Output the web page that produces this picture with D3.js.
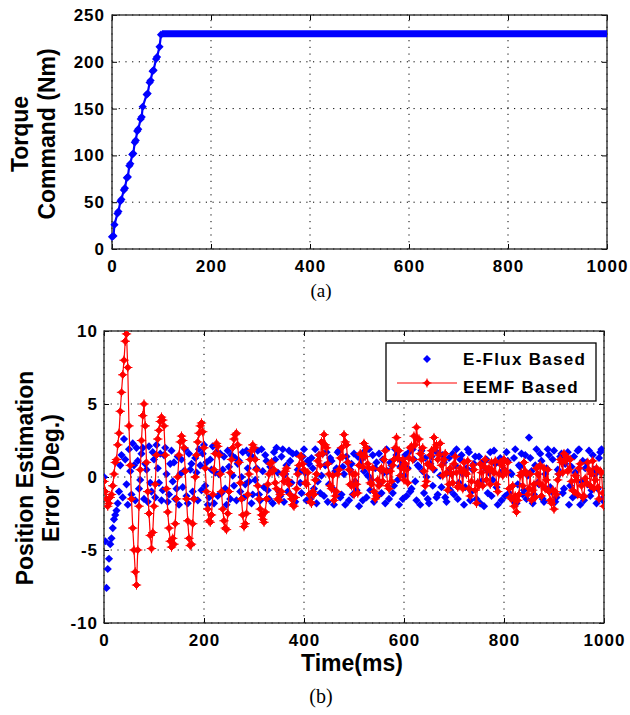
<!DOCTYPE html>
<html>
<head>
<meta charset="utf-8">
<script src="https://cdn.jsdelivr.net/npm/d3@7"></script>
<style>
  body { margin: 0; background: #fff; }
  svg { font-family: "Liberation Sans", Arial, sans-serif; }
</style>
</head>
<body>
<div id="chart"></div>
<script>
// (a) torque command, ramp samples then saturation
const torqueTime  = [0, 3, 5, 11, 13, 17, 19, 24, 26, 30, 32, 35, 37, 41, 43, 46, 48, 51, 53, 58, 60, 62, 70, 72, 76, 78, 82, 84, 89, 91, 96, 99];
const torqueValue = [13, 14, 26, 38, 40, 51, 53, 63, 65, 76, 77, 89, 91, 101, 102, 114, 116, 126, 128, 139, 141, 152, 165, 166, 178, 180, 190, 191, 203, 205, 216, 229];
const torqueHoldTime  = [101, 1000];
const torqueHoldValue = [230, 230];

// (b) position estimation error
// *Main arrays: samples at 0, 5, 10 ... 1000 ms; *Mid arrays: 2.5, 7.5 ... 997.5 ms
const SAMPLE_MS = 5;
const eFluxMain = [
  0.0, -7.6, -5.6, -4.2, -2.9, -2.3, -1.0, 1.5, 2.6, -0.5, 1.9, -1.2, 0.8, 2.0, -0.8, 1.6, -1.5, 0.5, 2.1, -1.0,
  1.2, 2.2, -0.4, -1.6, 1.5, 0.2, -1.2, 1.8, 1.0, -0.8, -1.9, 1.2, 0.4, -1.3, 1.6, 0.9, -1.5, 0.3, 1.9, -0.9,
  2.2, 1.0, -1.4, 0.5, -1.8, 1.7, 0.2, -1.1, 1.4, -1.9, 0.7, 1.5, -0.6, -1.6, 1.1, 0.0, -1.4, 1.8, -0.3, -1.8,
  1.3, 0.6, -1.2, 1.9, -0.7, 1.1, -1.5, 0.4, 1.7, 2.0, -1.0, 1.4, -1.7, 0.8, 1.8, -0.4, -1.4, 1.6, 0.3, -1.1,
  1.9, -1.6, 0.9, 1.3, -0.8, -1.8, 1.5, 0.1, -1.3, 1.7, -0.5, 1.1, -1.9, 0.6, 1.8, -1.2, 0.2, 1.4, -1.6, 0.9,
  1.6, -0.9, -2.0, 1.2, 0.4, -1.4, 1.9, -0.2, -1.7, 1.0, 1.6, -1.1, 0.3, 1.9, -1.5, 0.8, -0.6, 1.5, -1.9, 1.1,
  0.1, -1.3, 1.7, -0.8, 1.2, -1.6, 0.7, 1.8, -1.1, 0.0, -1.8, 1.4, 0.5, -1.4, 1.6, -0.7, 1.0, -1.7, 1.3, 0.2,
  -1.2, 1.9, -0.4, 1.5, -1.9, 0.6, 1.7, -1.0, 0.9, -1.5, 1.4, -0.3, -2.0, 1.2, 0.3, -1.3, 1.8, -0.7, 1.0, -1.6,
  0.5, 1.7, -1.1, 0.2, 1.3, -1.8, 0.8, 1.6, -0.9, -1.5, 2.7, 0.4, -1.2, 1.9, -0.5, 1.1, -1.7, 0.6, 1.5, -1.0,
  1.8, -1.4, 0.2, 1.6, -0.8, 1.2, -1.9, 0.7, 1.4, -1.2, 1.9, -0.3, -1.6, 1.0, 1.8, -0.9, 0.5, -1.8, 1.3, 1.9,
  -1.4
];
const eFluxMid = [
  -4.4, -6.3, -4.6, -3.5, -2.6, -1.8, 0.8, -1.4, 1.2, -1.9, 0.4, 2.3, -1.6, 1.1, -0.2, 2.0, 0.9, -1.7, -0.4, 1.7,
  -1.4, 0.6, 1.6, -0.9, 2.0, -1.7, 0.9, -0.3, -1.5, 1.4, 0.2, -0.7, 1.9, -1.8, 0.5, -1.0, 1.3, -1.6, 0.8, 1.6,
  -0.6, -1.9, 1.2, 2.1, 0.3, -1.3, 1.6, 0.5, -0.8, 1.8, -1.5, 0.1, 1.3, 0.9, -1.0, 1.7, -0.5, 0.6, 1.5, -1.2,
  -0.2, 1.8, -1.6, 0.4, 1.5, -0.9, 0.7, -1.8, 1.2, 0.3, -1.3, 1.9, 0.2, -1.0, 1.1, 1.6, -1.7, 0.5, -0.4, 1.4,
  0.3, 1.1, -1.5, 0.6, 1.9, -0.3, -1.1, 1.6, 0.8, -1.7, 1.3, -0.8, 0.4, 1.7, -1.4, 0.7, -1.9, 1.0, 0.5, -1.2,
  -0.3, 1.4, 0.8, -1.6, 1.8, 0.1, -0.9, 1.5, 0.6, -1.3, -0.4, 1.2, -1.8, 0.4, 1.0, -1.1, 1.9, -0.2, 0.7, -1.5,
  1.5, 0.6, -1.0, 1.9, -0.3, 0.8, -1.9, 0.4, 1.3, -1.5, 0.9, -0.6, 1.8, -1.2, 0.1, 1.5, -1.4, 0.3, -0.9, 1.6,
  0.8, -1.5, 1.2, 0.2, -0.7, 1.9, -1.6, 0.5, 1.4, -0.4, -1.8, 1.0, 0.6, -1.1, 1.7, -0.2, 0.9, -1.9, 1.3, 0.4,
  -1.3, 1.1, 0.3, -1.6, 1.9, -0.5, 0.7, -1.2, 1.5, 0.1, 1.3, -1.8, 0.8, -0.4, 1.6, -1.5, 0.2, 1.9, -0.7, 1.2,
  -1.7, 0.5, 1.4, -1.1, 0.9, 1.7, -0.6, -1.4, 0.3, 1.8, -1.9, 1.1, 0.6, -0.5, -1.3, 1.5, 0.2, -0.8, 1.7, -1.6
];
const eemfMain = [
  -0.3, -1.5, -1.8, -1.2, 0.2, 1.2, 3.0, 5.8, 8.0, 9.8, 3.5, -1.5, -5.0, -7.4, -2.0, 2.5, 5.0, 1.0, -2.5, -4.9,
  -2.0, 1.5, 3.2, 4.1, 3.5, -0.8, -3.5, -4.8, -4.6, -1.5, 1.5, 2.8, 2.0, -1.5, -4.2, -4.6, -1.5, 1.5, 3.0, 3.7,
  2.0, -1.0, -3.0, -2.6, 0.5, 2.3, 1.5, -1.0, -3.0, -3.6, -1.0, 1.2, 2.6, 3.0, 1.0, -1.5, -3.4, -2.5, 0.2, 1.8,
  2.0, 0.5, -1.5, -2.6, -3.1, -1.5, 0.2, 1.0, 0.5, -0.8, -1.6, -1.0, -0.3, 0.6, -0.5, -1.5, -2.0, -0.8, 0.8, 1.4,
  0.5, -0.5, -1.2, -1.8, -1.2, 0.2, 1.5, 2.4, 2.9, 2.0, 0.2, -0.8, -1.6, -1.0, 0.5, 2.0, 2.9, 2.2, 0.5, -0.6,
  -1.2, -0.5, 0.8, 1.5, 2.3, 2.0, 0.6, -0.5, -1.0, -1.3, -0.6, 0.6, 1.2, 0.4, -0.8, -0.3, 1.2, 2.7, 1.8, 0.6,
  -0.2, 0.5, 1.3, 2.1, 2.8, 3.4, 2.6, 1.2, 0.4, -0.3, 0.8, 1.8, 2.7, 2.2, 1.5, 0.8, 1.2, 0.3, -0.5, 0.2,
  0.9, 0.3, -0.6, 0.4, 1.0, 0.2, -0.8, -0.3, 0.5, -1.8, -0.6, 0.3, 0.7, -0.2, 0.6, 1.0, 0.3, -0.5, 0.2, 0.8,
  1.2, 0.3, -0.8, -1.5, -2.0, -2.4, -1.2, 0.3, 1.0, 0.2, -0.8, -1.6, -0.5, 0.6, -0.4, -1.3, 0.6, -0.2, -1.0, -1.8,
  -2.2, -1.2, 0.2, 1.0, 1.6, 1.4, 0.5, -0.3, -1.0, -0.2, 0.6, -0.6, -1.3, -0.4, 0.5, 0.2, -0.8, 0.6, -1.5, 0.3,
  -2.0
];
const eemfMid = [
  -1.0, -2.0, -1.4, -0.6, 1.0, 2.2, 4.5, 7.0, 9.3, 7.5, 0.8, -3.5, -6.5, -5.0, 0.5, 4.2, 3.5, -1.0, -4.0, -3.8,
  -0.5, 2.6, 3.8, 3.9, 1.5, -2.4, -4.4, -4.2, -3.2, 0.0, 2.4, 2.5, 0.4, -3.0, -4.7, -3.2, 0.0, 2.4, 3.5, 3.1,
  0.6, -2.2, -3.1, -1.2, 1.6, 2.1, 0.2, -2.2, -3.5, -2.5, 0.3, 2.0, 2.9, 2.2, -0.4, -2.6, -3.2, -1.2, 1.2, 2.2,
  1.2, -0.6, -2.2, -2.9, -2.4, -0.5, 0.9, 0.4, -0.4, -1.5, -1.2, 0.2, 0.4, -0.2, -1.2, -1.9, -1.4, 0.2, 1.4, 0.9,
  -0.4, 0.3, -1.7, -1.0, -0.2, 1.1, 0.8, 1.6, 2.2, 0.9, -0.6, 0.1, -1.3, 0.2, 1.3, 1.4, 2.4, 1.0, -0.5, 0.2,
  0.2, -1.1, 1.6, 0.7, 1.4, 0.9, -0.4, 0.6, -1.5, -0.2, 0.5, -0.3, 1.8, -0.6, 0.4, 0.8, 2.0, 1.3, 0.1, 1.2,
  0.9, -0.4, 2.0, 1.2, 2.2, 2.6, 1.6, 2.0, -0.6, 0.9, 1.5, 0.6, 2.0, 1.2, 2.3, 0.1, 1.6, -0.9, 0.6, -0.4,
  1.4, -0.7, 0.6, -0.8, 0.3, 1.1, -1.3, 0.8, -0.9, -0.4, 0.9, -0.6, 1.2, 0.5, -0.5, 0.4, 1.1, -1.0, 1.0, 0.1,
  0.4, 1.0, -1.4, -0.6, -1.3, -1.6, 0.1, -0.6, 0.4, -1.2, 0.2, -0.9, -1.4, 0.2, 0.8, -0.6, -0.8, 0.5, -1.6, -0.9,
  -1.0, -0.2, 1.2, 0.3, 1.1, 0.4, 1.2, -0.9, 0.1, -1.2, 0.9, -1.4, -0.1, 1.0, -0.6, 1.1, -0.2, -0.7, 0.4, -1.1
];

const xTicks = [0, 200, 400, 600, 800, 1000];
const torqueTicks = [0, 50, 100, 150, 200, 250];
const errorTicks = [-10, -5, 0, 5, 10];
const legendLabels = ["E-Flux Based", "EEMF Based"];

const width = 630, height = 715;
const blue = "#0000ff", red = "#ff0000";

let svg = d3.select("#chart").append("svg")
    .attr("width", width).attr("height", height);
svg.append("rect").attr("width", width).attr("height", height).attr("fill", "#fff");

function diamond(r) {
    return "M0," + (-r) + "L" + r + ",0L0," + r + "L" + (-r) + ",0Z";
}
// red marker: diamond with a short plus through it
function starMark(r) {
    let p = r + 1.3;
    return diamond(r) + "M0," + (-p) + "V" + p + "M" + (-p) + ",0H" + p;
}

// merge the on-grid and half-step samples into one time-ordered series
function samples(main, mid) {
    let pts = main.map((v, i) => ({t: i * SAMPLE_MS, v: v}))
        .concat(mid.map((v, i) => ({t: i * SAMPLE_MS + SAMPLE_MS / 2, v: v})));
    return pts.sort((a, b) => a.t - b.t);
}

function frame(x, y, yTicks, ytPad) {
    let [x0, x1] = x.range();
    let [y0, y1] = y.range(); // y0 bottom, y1 top
    let g = svg.append("g");

    // dotted grid
    g.selectAll(".gx").data(xTicks).enter().append("line")
        .attr("x1", d => x(d)).attr("x2", d => x(d))
        .attr("y1", y0).attr("y2", y1)
        .attr("stroke", "#000").attr("stroke-width", 1)
        .attr("stroke-dasharray", "1.2,5.5");
    g.selectAll(".gy").data(yTicks).enter().append("line")
        .attr("x1", x0).attr("x2", x1)
        .attr("y1", d => y(d)).attr("y2", d => y(d))
        .attr("stroke", "#000").attr("stroke-width", 1)
        .attr("stroke-dasharray", "1.2,5.5");

    let fmt = d => String(d);
    let axes = [
        [d3.axisBottom(x).tickValues(xTicks).tickFormat(fmt), "translate(0," + y0 + ")"],
        [d3.axisTop(x).tickValues(xTicks).tickFormat(""), "translate(0," + y1 + ")"],
        [d3.axisLeft(y).tickValues(yTicks).tickFormat(fmt), "translate(" + x0 + ",0)"],
        [d3.axisRight(y).tickValues(yTicks).tickFormat(""), "translate(" + x1 + ",0)"]
    ];
    axes.forEach(([ax, tr], i) => {
        let a = g.append("g").attr("transform", tr)
            .call(ax.tickSize(-5).tickPadding(i == 0 ? 11 : ytPad));
        a.select(".domain").remove();
        a.selectAll(".tick line").attr("stroke", "#000");
        a.selectAll("text")
            .attr("font-family", "Liberation Sans, Arial, sans-serif")
            .attr("font-size", 17).attr("font-weight", "bold")
            .attr("letter-spacing", "1px").attr("fill", "#000");
    });

    g.append("rect")
        .attr("x", x0).attr("y", y1)
        .attr("width", x1 - x0).attr("height", y0 - y1)
        .attr("fill", "none").attr("stroke", "#222").attr("stroke-width", 1.3);
    return g;
}

function rotLabel(lines, cy) {
    lines.forEach(([txt, bx]) => {
        svg.append("text")
            .attr("transform", "translate(" + bx + "," + cy + ") rotate(-90)")
            .attr("text-anchor", "middle")
            .attr("font-size", 23).attr("font-weight", "bold")
            .text(txt);
    });
}

// ---------- (a) ----------
let xa = d3.scaleLinear().domain([0, 1000]).range([112, 607]);
let ya = d3.scaleLinear().domain([0, 250]).range([249, 15]);
frame(xa, ya, torqueTicks, 7);

let torque = torqueTime.map((t, i) => ({t: t, v: torqueValue[i]}));
let hold = torqueHoldTime.map((t, i) => ({t: t, v: torqueHoldValue[i]}));
let lineA = d3.line().x(d => xa(d.t)).y(d => ya(d.v));

svg.append("path").datum(torque.concat(hold))
    .attr("d", lineA).attr("fill", "none")
    .attr("stroke", blue).attr("stroke-width", 2.2);
// saturated part: markers packed so densely they form a band
svg.append("path").datum(hold)
    .attr("d", lineA).attr("fill", "none")
    .attr("stroke", blue).attr("stroke-width", 7);
svg.selectAll(".ta").data(torque).enter().append("path")
    .attr("d", diamond(4.1))
    .attr("transform", d => "translate(" + xa(d.t) + "," + ya(d.v) + ")")
    .attr("fill", blue);

svg.append("text").attr("x", 321).attr("y", 297)
    .attr("text-anchor", "middle")
    .attr("font-family", "Liberation Serif, Times New Roman, serif")
    .attr("font-size", 19).text("(a)");

rotLabel([["Torque", 28], ["Command (Nm)", 55]], 134);

// ---------- (b) ----------
let xb = d3.scaleLinear().domain([0, 1000]).range([104, 604]);
let yb = d3.scaleLinear().domain([-10, 10]).range([623, 331]);
frame(xb, yb, errorTicks, 6);

svg.append("clipPath").attr("id", "clipb").append("rect")
    .attr("x", 104).attr("y", 331).attr("width", 500).attr("height", 292);
let plotB = svg.append("g").attr("clip-path", "url(#clipb)");

let fluxPts = samples(eFluxMain, eFluxMid);
let emfPts = samples(eemfMain, eemfMid);

plotB.selectAll(".fb").data(fluxPts).enter().append("path")
    .attr("d", diamond(4.1))
    .attr("transform", d => "translate(" + xb(d.t) + "," + yb(d.v) + ")")
    .attr("fill", blue);

let lineB = d3.line().x(d => xb(d.t)).y(d => yb(d.v));
plotB.append("path").datum(emfPts)
    .attr("d", lineB).attr("fill", "none")
    .attr("stroke", red).attr("stroke-width", 1.2);
plotB.selectAll(".eb").data(emfPts).enter().append("path")
    .attr("d", starMark(3.4))
    .attr("transform", d => "translate(" + xb(d.t) + "," + yb(d.v) + ")")
    .attr("fill", red).attr("stroke", red).attr("stroke-width", 1);

// legend
let lg = svg.append("g");
lg.append("rect").attr("x", 386).attr("y", 343).attr("width", 210).attr("height", 58)
    .attr("fill", "#fff").attr("stroke", "#000").attr("stroke-width", 1.3);
lg.append("path").attr("d", diamond(4))
    .attr("transform", "translate(427,359)").attr("fill", blue);
lg.append("line").attr("x1", 397).attr("x2", 457).attr("y1", 383).attr("y2", 383)
    .attr("stroke", red).attr("stroke-width", 1.2);
lg.append("path").attr("d", starMark(3.2))
    .attr("transform", "translate(427,383)")
    .attr("fill", red).attr("stroke", red).attr("stroke-width", 1);
legendLabels.forEach((s, i) => {
    lg.append("text").attr("x", 463).attr("y", 365 + i * 28)
        .attr("font-size", 17).attr("font-weight", "bold")
        .attr("letter-spacing", "1.3px").text(s);
});

svg.append("text").attr("x", 352).attr("y", 671)
    .attr("text-anchor", "middle")
    .attr("font-size", 23).attr("font-weight", "bold")
    .text("Time(ms)");

svg.append("text").attr("x", 321).attr("y", 703)
    .attr("text-anchor", "middle")
    .attr("font-family", "Liberation Serif, Times New Roman, serif")
    .attr("font-size", 20).text("(b)");

rotLabel([["Position Estimation", 33], ["Error (Deg.)", 59]], 478);
</script>
</body>
</html>
